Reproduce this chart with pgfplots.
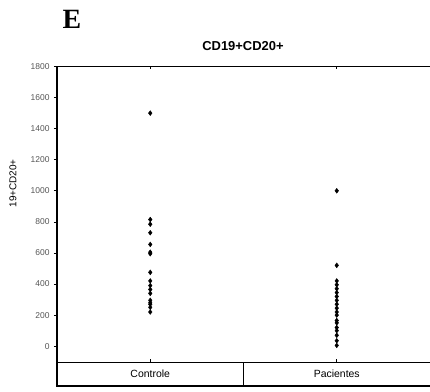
\documentclass[border=0pt]{standalone}
\usepackage{pgfplots}
\pgfplotsset{compat=1.18}
\usepackage{fontspec}
\setmainfont{Liberation Sans}
\newfontfamily\serifb{Liberation Serif}
\definecolor{tickgray}{HTML}{555555}
\begin{document}
\begin{tikzpicture}[x=1bp,y=1bp]
\useasboundingbox (0,0) rectangle (430,392);
\node[font=\serifb\bfseries\fontsize{28}{28}\selectfont] at (72,373) {E};
\node[font=\bfseries\fontsize{13}{13}\selectfont] at (243,346) {CD19+CD20+};
\begin{axis}[
  at={(57bp,29.5bp)}, anchor=south west, scale only axis,
  width=373bp, height=296bp,
  xmin=0.5, xmax=2.5, ymin=-105, ymax=1800,
  clip=false,
  axis line style={draw=none},
  ytick={0,200,...,1800},
  xtick={1,2}, xticklabels={},
  ytick pos=left, xtick pos=both,
  ytick align=outside, xtick align=inside,
  major tick length=3bp,
  tick style={black, line width=0.7bp},
  /pgf/number format/assume math mode=true,
  /pgf/number format/1000 sep={},
  yticklabel style={font=\fontsize{8.5}{8.5}\selectfont, text=tickgray, xshift=-1bp},
  ylabel={19+CD20+},
  ylabel style={font=\fontsize{8}{8}\selectfont, text=tickgray},
  every axis y label/.style={at={(rel axis cs:0,0.605)}, xshift=-44bp, rotate=90, anchor=center},
]
\draw[line width=1.5bp] (rel axis cs:0,0) -- (rel axis cs:0,1) -- (rel axis cs:1,1);
\draw[line width=1.5bp] (rel axis cs:0,0) -- (rel axis cs:1,0);
\draw[line width=1.5bp] (axis cs:0.5,-105) -- (axis cs:0.5,-255) -- (axis cs:2.5,-255);
\draw[line width=1.5bp] (axis cs:1.5,-105) -- (axis cs:1.5,-255);
\node[font=\fontsize{10.5}{10.5}\selectfont] at (axis cs:1,-180) {Controle};
\node[font=\fontsize{10.5}{10.5}\selectfont] at (axis cs:2,-180) {Pacientes};
\addplot[only marks, mark=diamond*, mark size=2.4bp, black] coordinates {
(1,1500) (1,815) (1,785) (1,730) (1,655) (1,605) (1,595) (1,475) (1,420)
(1,390) (1,365) (1,340) (1,295) (1,280) (1,270) (1,250) (1,220)
};
\addplot[only marks, mark=diamond*, mark size=2.4bp, black] coordinates {
(2,1000) (2,520) (2,420) (2,395) (2,370) (2,345) (2,320) (2,295) (2,270)
(2,245) (2,220) (2,200) (2,165) (2,150) (2,120) (2,100) (2,70) (2,35) (2,5)
};
\end{axis}
\end{tikzpicture}
\end{document}
